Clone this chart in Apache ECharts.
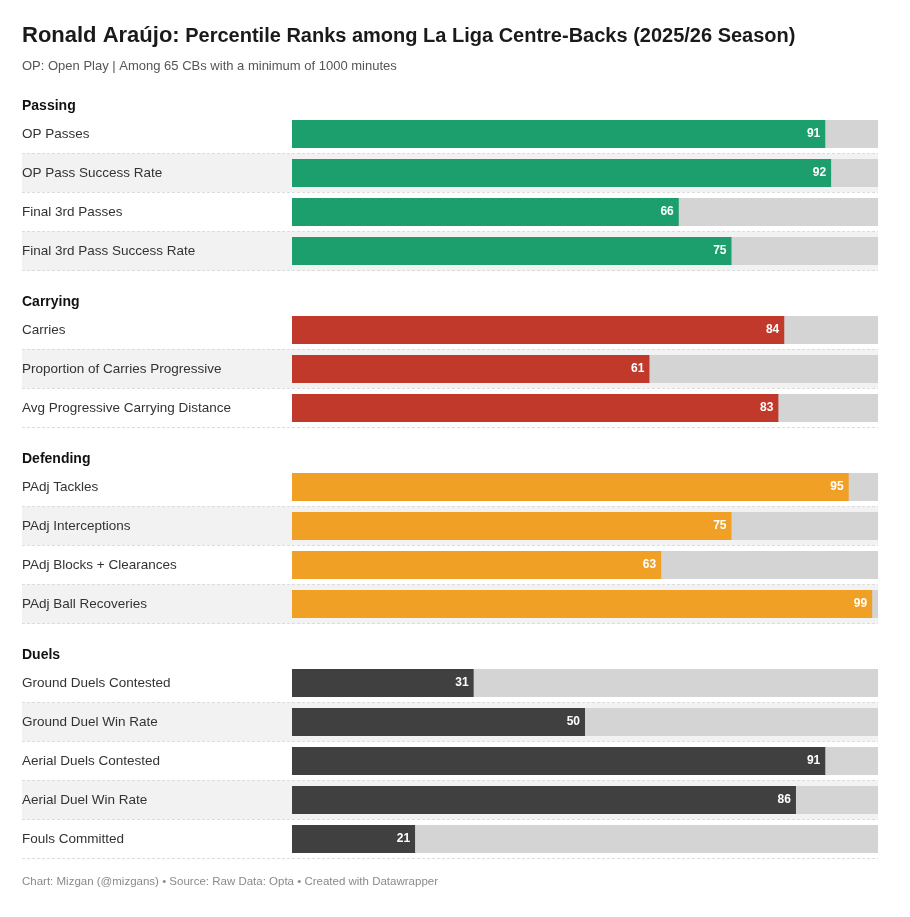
<!DOCTYPE html>
<html lang="en">
<head>
<meta charset="UTF-8">
<title>Ronald Araújo percentile ranks</title>
<style>
  html, body { margin: 0; padding: 0; background: #fff; }
  #main { width: 910px; height: 917px; }
</style>
</head>
<body>
<div id="main"></div>
<script src="https://cdn.jsdelivr.net/npm/echarts@6/dist/echarts.min.js"></script>
<script>
// sections and their metrics (percentile ranks)
var sectionNames = ['Passing', 'Carrying', 'Defending', 'Duels'];
var sectionColors = ['#1c9e6d', '#c0392b', '#f0a024', '#404040'];

var passingLabels = ['OP Passes', 'OP Pass Success Rate', 'Final 3rd Passes', 'Final 3rd Pass Success Rate'];
var passingValues = [91, 92, 66, 75];

var carryingLabels = ['Carries', 'Proportion of Carries Progressive', 'Avg Progressive Carrying Distance'];
var carryingValues = [84, 61, 83];

var defendingLabels = ['PAdj Tackles', 'PAdj Interceptions', 'PAdj Blocks + Clearances', 'PAdj Ball Recoveries'];
var defendingValues = [95, 75, 63, 99];

var duelsLabels = ['Ground Duels Contested', 'Ground Duel Win Rate', 'Aerial Duels Contested', 'Aerial Duel Win Rate', 'Fouls Committed'];
var duelsValues = [31, 50, 91, 86, 21];

var allLabels = [passingLabels, carryingLabels, defendingLabels, duelsLabels];
var allValues = [passingValues, carryingValues, defendingValues, duelsValues];

var FONT = 'Liberation Sans, Arial, sans-serif';
var rowH = 39;
var gridTops = [114.5, 310.5, 467.5, 663.5];
// bars start at x=292 while row bands start at x=22
var xMin = -100 * 270 / 586;

var myChart = echarts.init(document.getElementById('main'));

var titles = [{
    left: 22, top: 25, padding: 0,
    text: '{a|Ronald Araújo:} Percentile Ranks among La Liga Centre-Backs (2025/26 Season)',
    textStyle: {
        fontFamily: FONT, fontSize: 20, fontWeight: 'bold', color: '#1a1a1a',
        rich: { a: { fontFamily: FONT, fontSize: 22, fontWeight: 'bold', color: '#1a1a1a' } }
    }
}, {
    left: 22, top: 60, padding: 0,
    text: 'OP: Open Play | Among 65 CBs with a minimum of 1000 minutes',
    textStyle: { fontFamily: FONT, fontSize: 13, fontWeight: 'normal', color: '#555' }
}, {
    left: 22, top: 876, padding: 0,
    text: 'Chart: Mizgan (@mizgans) • Source: Raw Data: Opta • Created with Datawrapper',
    textStyle: { fontFamily: FONT, fontSize: 11.5, fontWeight: 'normal', color: '#8a8a8a' }
}];

var grids = [], xAxes = [], yAxes = [], series = [];

sectionNames.forEach(function (name, i) {
    titles.push({
        left: 22, top: gridTops[i] - 17.5,
        text: name,
        textStyle: { fontFamily: FONT, fontSize: 14, fontWeight: 'bold', color: '#111' },
        padding: [2, 0, 0, 0]
    });
    var n = allLabels[i].length;
    grids.push({ left: 22, right: 32, top: gridTops[i], height: n * rowH });
    xAxes.push({
        gridIndex: i, type: 'value', min: xMin, max: 100,
        show: false, splitLine: { show: false }
    });
    yAxes.push({
        gridIndex: i, type: 'category', inverse: true,
        data: allLabels[i],
        axisLine: { show: false },
        axisTick: { show: false },
        axisLabel: {
            inside: true, margin: 0, color: '#333',
            fontFamily: FONT, fontSize: 13.5
        },
        splitArea: { show: true, areaStyle: { color: ['#ffffff', '#f2f2f2'] } },
        splitLine: {
            show: true,
            interval: function (idx) { return idx > 0; },
            lineStyle: { color: '#dcdcdc', type: [3, 2], width: 1 }
        },
        z: 1
    });
    // grey track behind each bar
    series.push({
        type: 'bar', xAxisIndex: i, yAxisIndex: i, silent: true,
        barWidth: 28,
        data: allValues[i].map(function () { return 100; }),
        itemStyle: { color: '#d4d4d4' },
        z: 2
    });
    series.push({
        type: 'bar', xAxisIndex: i, yAxisIndex: i, silent: true,
        barWidth: 28, barGap: '-100%',
        data: allValues[i],
        itemStyle: { color: sectionColors[i] },
        label: {
            show: true, position: 'insideRight', distance: 5,
            color: '#fff', fontFamily: FONT, fontSize: 12, fontWeight: 'bold'
        },
        z: 3
    });
});

var option = {
    backgroundColor: '#fff',
    animation: false,
    title: titles,
    grid: grids,
    xAxis: xAxes,
    yAxis: yAxes,
    series: series
};
myChart.setOption(option);
</script>
</body>
</html>
